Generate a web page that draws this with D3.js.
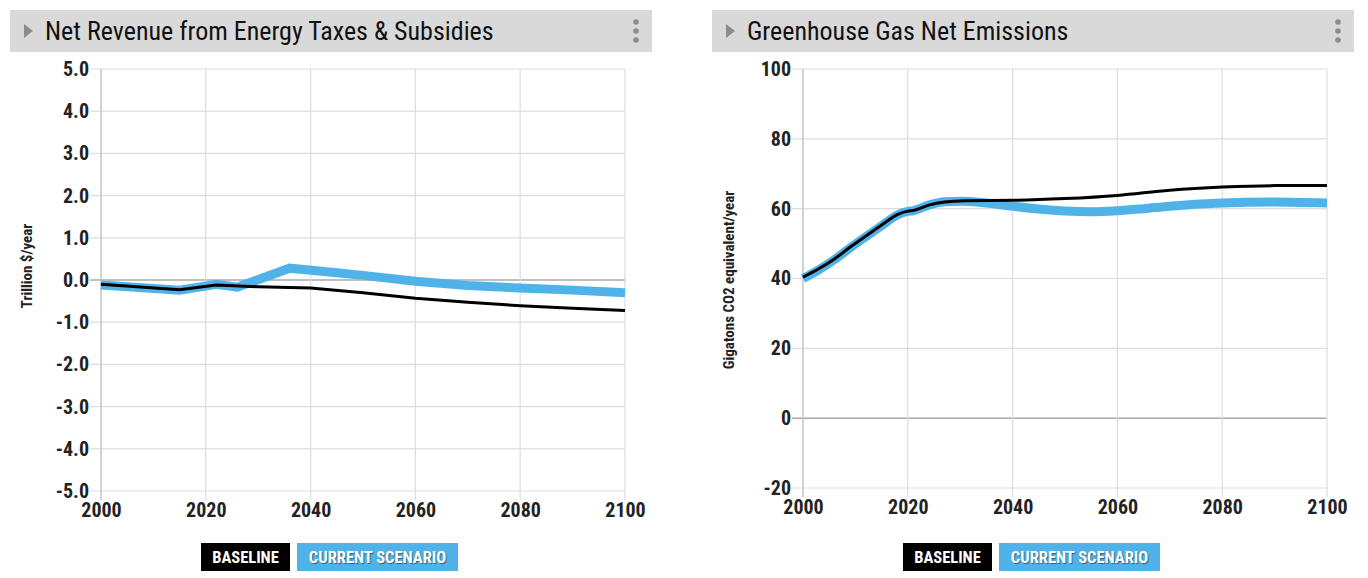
<!DOCTYPE html>
<html>
<head>
<meta charset="utf-8">
<script src="https://cdn.jsdelivr.net/npm/d3@7"></script>
<style>
  body { margin: 0; background: #fff; }
  svg { display: block; }
  text { font-family: "Liberation Sans Narrow", "Roboto Condensed", "Roboto", sans-serif; }
</style>
</head>
<body>
<svg width="1368" height="578"></svg>
<script>
// data
const years = [2000, 2020, 2040, 2060, 2080, 2100];

const revTicks = [5, 4, 3, 2, 1, 0, -1, -2, -3, -4, -5];
const revBaseYears = [2000, 2015, 2022, 2030, 2040, 2050, 2060, 2070, 2080, 2090, 2100];
const revBaseVals  = [-0.10, -0.23, -0.12, -0.16, -0.19, -0.30, -0.43, -0.53, -0.61, -0.67, -0.72];
const revScenYears = [2000, 2015, 2022, 2026, 2036, 2045, 2050, 2060, 2070, 2080, 2090, 2100];
const revScenVals  = [-0.12, -0.24, -0.10, -0.17, 0.28, 0.17, 0.11, -0.03, -0.13, -0.19, -0.24, -0.30];

const ghgTicks = [100, 80, 60, 40, 20, 0, -20];
const ghgBaseYears = [2000, 2003, 2006, 2009, 2012, 2015, 2018, 2020, 2021, 2024, 2027, 2031, 2040, 2050, 2060, 2070, 2080, 2090, 2100];
const ghgBaseVals  = [40.4, 42.8, 45.6, 49.0, 52.2, 55.3, 58.3, 59.3, 59.5, 61.0, 61.9, 62.3, 62.4, 62.9, 63.8, 65.3, 66.2, 66.6, 66.6];
const ghgScenYears = [2000, 2003, 2006, 2009, 2012, 2015, 2018, 2020, 2021, 2024, 2027, 2030, 2035, 2040, 2045, 2050, 2055, 2060, 2065, 2070, 2080, 2090, 2100];
const ghgScenVals  = [40.0, 42.5, 45.4, 48.8, 52.0, 55.1, 58.2, 59.2, 59.4, 61.0, 62.0, 62.1, 61.6, 60.7, 59.9, 59.3, 59.1, 59.4, 60.0, 60.7, 61.6, 61.9, 61.6];

const svg = d3.select('svg');
const blue = '#4fb3ea';
const fontStack = '"Liberation Sans Narrow", "Roboto Condensed", Roboto, sans-serif';

function panel(opt) {
  const g = svg.append('g');

  // header bar
  g.append('rect')
    .attr('x', opt.hx).attr('y', 10)
    .attr('width', 642).attr('height', 42)
    .attr('fill', '#d9d9d9');
  g.append('path')
    .attr('d', `M${opt.hx + 14},24 L${opt.hx + 23},31 L${opt.hx + 14},38 Z`)
    .attr('fill', '#8c8c8c');
  g.append('text')
    .attr('x', opt.hx + 35).attr('y', 40)
    .attr('font-size', 26)
    .attr('fill', '#111')
    .text(opt.title);
  [22, 31, 40].forEach(cy => {
    g.append('circle')
      .attr('cx', opt.hx + 626).attr('cy', cy).attr('r', 2.8)
      .attr('fill', '#8c8c8c');
  });

  const x = d3.scaleLinear().domain([2000, 2100]).range([opt.x0, opt.x0 + 524]);
  const y = d3.scaleLinear().domain(opt.domain).range([opt.y1, 69]);

  // grid
  g.selectAll('.hgrid')
    .data(opt.ticks)
    .enter()
    .append('line')
    .attr('x1', opt.x0 - 11).attr('x2', x(2100))
    .attr('y1', d => y(d)).attr('y2', d => y(d))
    .attr('stroke', d => d === 0 ? '#aaa' : '#ddd')
    .attr('stroke-width', d => d === 0 ? 1.5 : 1.2);

  g.selectAll('.vgrid')
    .data(years)
    .enter()
    .append('line')
    .attr('x1', d => x(d)).attr('x2', d => x(d))
    .attr('y1', 69).attr('y2', opt.y1 + 9)
    .attr('stroke', d => d === 2000 ? '#c8c8c8' : '#ddd')
    .attr('stroke-width', d => d === 2000 ? 1.6 : 1.2);

  // axes labels
  const yAxis = d3.axisLeft(y)
    .tickValues(opt.ticks)
    .tickSize(0)
    .tickPadding(12)
    .tickFormat(d => opt.fmt(d).replace('\u2212', '-'));
  const ya = g.append('g')
    .attr('transform', 'translate(' + opt.x0 + ',0)')
    .call(yAxis);
  ya.select('.domain').remove();
  ya.selectAll('text')
    .attr('font-size', 20).attr('font-weight', 'bold').attr('fill', '#222')
    .style('font-family', fontStack);

  const xAxis = d3.axisBottom(x)
    .tickValues(years)
    .tickSize(0)
    .tickPadding(12)
    .tickFormat(d => String(d));
  const xa = g.append('g')
    .attr('transform', 'translate(0,' + opt.y1 + ')')
    .call(xAxis);
  xa.select('.domain').remove();
  xa.selectAll('text')
    .attr('font-size', 20).attr('font-weight', 'bold').attr('fill', '#222')
    .style('font-family', fontStack);

  g.append('text')
    .attr('transform', `translate(${opt.tx},${opt.ty}) rotate(-90)`)
    .attr('text-anchor', 'middle')
    .attr('font-size', 15).attr('font-weight', 'bold').attr('fill', '#222')
    .text(opt.ytitle);

  // lines
  const line = d3.line()
    .x(d => x(d[0])).y(d => y(d[1]))
    .curve(opt.curve);

  g.append('path')
    .datum(d3.zip(opt.scenYears, opt.scenVals))
    .attr('d', line)
    .attr('fill', 'none')
    .attr('stroke', blue)
    .attr('stroke-width', 9);

  g.append('path')
    .datum(d3.zip(opt.baseYears, opt.baseVals))
    .attr('d', line)
    .attr('fill', 'none')
    .attr('stroke', '#000')
    .attr('stroke-width', 3);

  // legend
  const lx = opt.x0 + 100;
  g.append('rect').attr('x', lx).attr('y', 543).attr('width', 89).attr('height', 28).attr('fill', '#000');
  g.append('rect').attr('x', lx + 96).attr('y', 543).attr('width', 161).attr('height', 28).attr('fill', blue);
  [['BASELINE', lx + 44.5], ['CURRENT SCENARIO', lx + 176.5]].forEach(t => {
    g.append('text')
      .attr('x', t[1]).attr('y', 563)
      .attr('text-anchor', 'middle')
      .attr('font-size', 16.5).attr('font-weight', 'bold')
      .attr('fill', '#fff')
      .style('text-shadow', '1px 1px 1px rgba(0,0,0,0.45)')
      .text(t[0]);
  });
}

panel({
  hx: 10, x0: 101, y1: 491,
  title: 'Net Revenue from Energy Taxes & Subsidies',
  domain: [-5, 5], ticks: revTicks, fmt: d3.format('.1f'),
  ytitle: 'Trillion $/year', tx: 32, ty: 266,
  baseYears: revBaseYears, baseVals: revBaseVals,
  scenYears: revScenYears, scenVals: revScenVals,
  curve: d3.curveLinear
});

panel({
  hx: 712, x0: 803, y1: 488,
  title: 'Greenhouse Gas Net Emissions',
  domain: [-20, 100], ticks: ghgTicks, fmt: d3.format('d'),
  ytitle: 'Gigatons CO2 equivalent/year', tx: 734, ty: 280,
  baseYears: ghgBaseYears, baseVals: ghgBaseVals,
  scenYears: ghgScenYears, scenVals: ghgScenVals,
  curve: d3.curveMonotoneX
});
</script>
</body>
</html>
